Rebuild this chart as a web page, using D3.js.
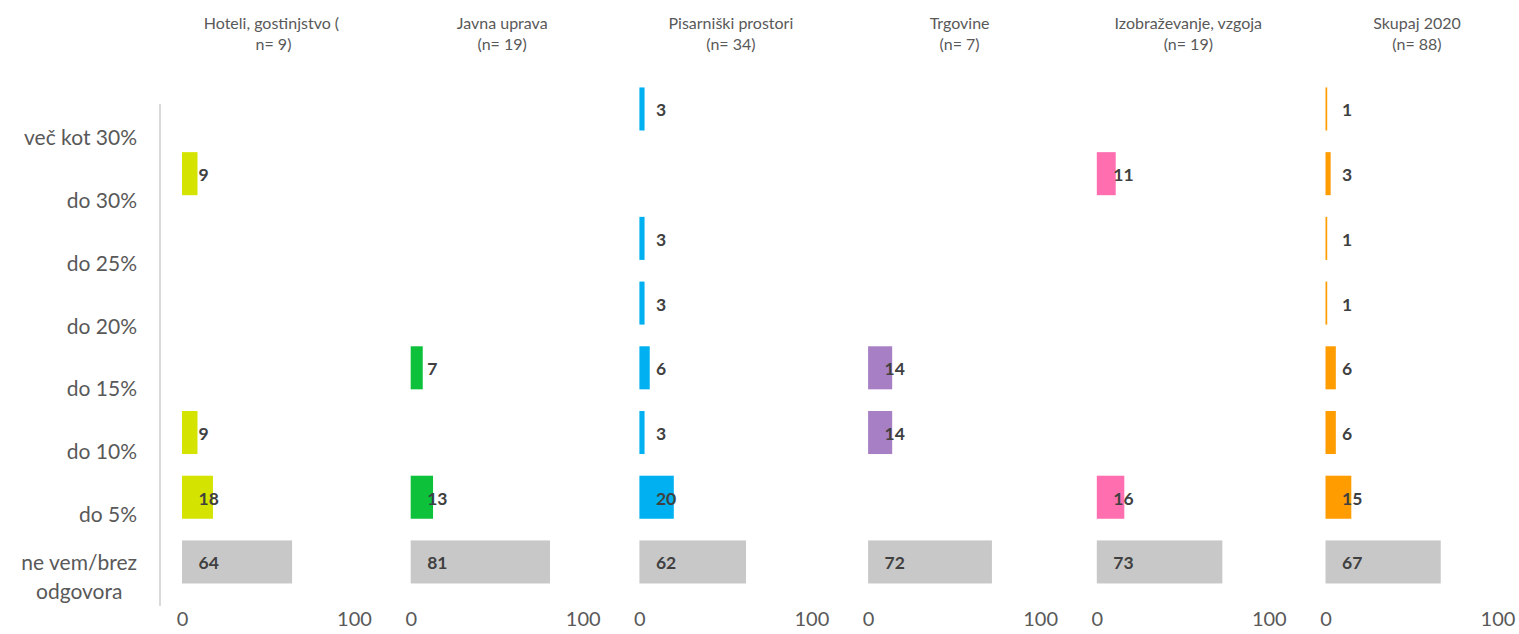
<!DOCTYPE html>
<html>
<head>
<meta charset="utf-8">
<script src="https://cdn.jsdelivr.net/npm/d3@7"></script>
<style>
  html, body { margin: 0; padding: 0; background: #fff; }
  svg { display: block; font-family: Lato, "Open Sans", sans-serif; }
</style>
</head>
<body>
<svg id="chart" width="1519" height="634"></svg>
<script>
// ---- data ----
const categories = ["več kot 30%", "do 30%", "do 25%", "do 20%", "do 15%", "do 10%", "do 5%", "ne vem/brez odgovora"];
const panelTitles = [
  ["Hoteli, gostinjstvo ( ", "n= 9)"],
  ["Javna uprava", "(n= 19)"],
  ["Pisarniški prostori", "(n= 34)"],
  ["Trgovine", "(n= 7)"],
  ["Izobraževanje, vzgoja", "(n= 19)"],
  ["Skupaj 2020", "(n= 88)"]
];
const hoteli        = [null, 9, null, null, null, 9, 18, 64];
const javnaUprava   = [null, null, null, null, 7, null, 13, 81];
const pisarniski    = [3, null, 3, 3, 6, 3, 20, 62];
const trgovine      = [null, null, null, null, 14, 14, null, 72];
const izobrazevanje = [null, 11, null, null, null, null, 16, 73];
const skupaj        = [1, 3, 1, 1, 6, 6, 15, 67];
const seriesValues = [hoteli, javnaUprava, pisarniski, trgovine, izobrazevanje, skupaj];
const panelColors = ["#d4e400", "#0dc13a", "#00b0f0", "#a77fc4", "#ff6fb0", "#ff9c00"];
const otherColor = "#c8c8c8";
const xTicks = [0, 100];

// ---- layout ----
const svg = d3.select("#chart");
const panelStart = 182, panelStep = 228.7, panelWidth = 172;

const yLabel = d3.scaleBand().domain(categories).range([104, 606]);
const yBar = d3.scaleBand().domain(categories).range([76.6, 594.3])
  .paddingInner(0.335).paddingOuter(0.1675);

// vertical category axis line
svg.append("line")
  .attr("x1", 160).attr("x2", 160)
  .attr("y1", 104).attr("y2", 606)
  .attr("stroke", "#d9d9d9").attr("stroke-width", 2);

// category labels (right-aligned block, wrapped lines centered)
const labelRight = 137, labelMax = 130, labelFont = 21;
categories.forEach(cat => {
  const g = svg.append("g");
  const words = cat.split(" ");
  const lines = [];
  let cur = [];
  const probe = g.append("text").attr("font-size", labelFont);
  words.forEach(w => {
    const t = cur.concat([w]).join(" ");
    probe.text(t);
    if (probe.node().getComputedTextLength() > labelMax && cur.length) {
      lines.push(cur.join(" ")); cur = [w];
    } else cur.push(w);
  });
  lines.push(cur.join(" "));
  probe.remove();
  const widths = lines.map(l => {
    const t = g.append("text").attr("font-size", labelFont).text(l);
    const w = t.node().getComputedTextLength(); t.remove(); return w;
  });
  const maxW = d3.max(widths);
  const lh = 28.5;
  const cy = yLabel(cat) + yLabel.bandwidth() / 2 + 1.5;
  lines.forEach((l, i) => {
    g.append("text")
      .attr("x", labelRight - maxW / 2)
      .attr("y", cy + (i - (lines.length - 1) / 2) * lh)
      .attr("text-anchor", "middle")
      .attr("dominant-baseline", "central")
      .attr("font-size", labelFont)
      .attr("fill", "#595959")
      .text(l);
  });
});

// panels
seriesValues.forEach((vals, p) => {
  const x0 = panelStart + p * panelStep;
  const x = d3.scaleLinear().domain([0, 100]).range([x0, x0 + panelWidth]);
  const g = svg.append("g");

  // title
  panelTitles[p].forEach((t, i) => {
    g.append("text")
      .attr("x", x0 + 91.5)
      .attr("y", 22 + i * 21)
      .attr("text-anchor", "middle")
      .attr("dominant-baseline", "central")
      .attr("font-size", 16)
      .attr("fill", "#595959")
      .style("white-space", "pre")
      .text(t);
  });

  const data = categories.map((c, i) => ({ c, v: vals[i], i }))
    .filter(d => d.v !== null);

  g.selectAll("rect").data(data).enter().append("rect")
    .attr("x", x(0))
    .attr("y", d => yBar(d.c))
    .attr("width", d => x(d.v) - x(0))
    .attr("height", yBar.bandwidth())
    .attr("fill", d => d.i === categories.length - 1 ? otherColor : panelColors[p]);

  g.selectAll("text.val").data(data).enter().append("text")
    .attr("class", "val")
    .attr("x", x(0) + 16.5)
    .attr("y", d => yBar(d.c) + yBar.bandwidth() / 2 + 1)
    .attr("dominant-baseline", "central")
    .attr("font-size", 17.5)
    .attr("font-weight", "bold")
    .attr("fill", "#404040")
    .text(d => d.v);

  // x axis
  const ax = g.append("g").attr("transform", "translate(0,612)")
    .call(d3.axisBottom(x).tickValues(xTicks).tickSize(0).tickPadding(0));
  ax.select(".domain").remove();
  ax.selectAll("text")
    .attr("font-size", 20)
    .attr("font-family", "Lato, 'Open Sans', sans-serif")
    .attr("fill", "#595959")
    .attr("dy", "0.71em");
});
</script>
</body>
</html>
